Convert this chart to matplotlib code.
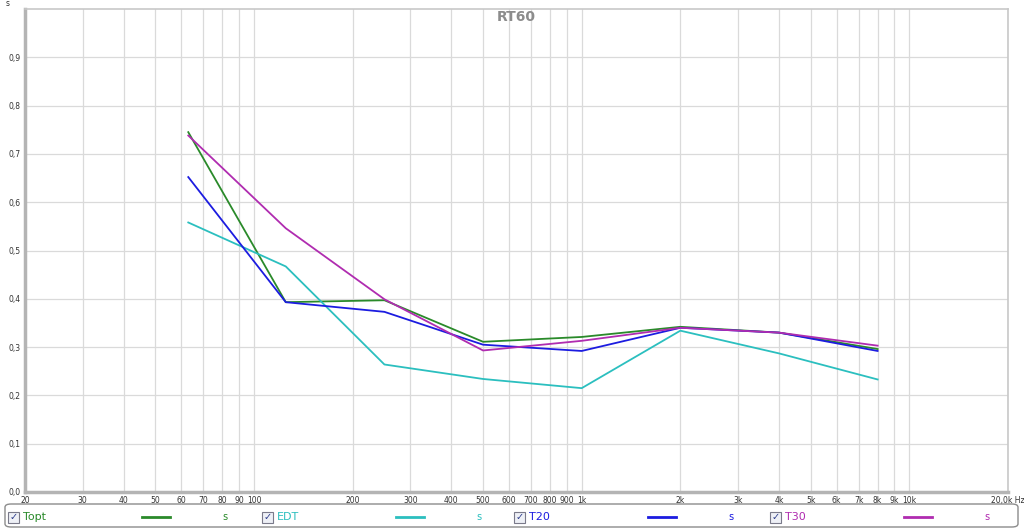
import matplotlib
matplotlib.use("Agg")
import matplotlib.pyplot as plt
from matplotlib.patches import FancyBboxPatch, Rectangle
from matplotlib.lines import Line2D

# octave band centres (Hz)
freqs = [63, 125, 250, 500, 1000, 2000, 4000, 8000]

# RT60 values in seconds
topt = [0.745, 0.393, 0.397, 0.311, 0.321, 0.342, 0.330, 0.296]
edt = [0.558, 0.467, 0.264, 0.234, 0.215, 0.334, 0.287, 0.233]
t20 = [0.652, 0.393, 0.373, 0.305, 0.292, 0.340, 0.330, 0.292]
t30 = [0.738, 0.546, 0.399, 0.293, 0.313, 0.340, 0.330, 0.303]

series_names = ["Topt", "EDT", "T20", "T30"]
series_colors = ["#2a8a2a", "#2bbfbf", "#1c1ce0", "#b02cb0"]

x_ticks = [20, 30, 40, 50, 60, 70, 80, 90, 100, 200, 300, 400, 500, 600, 700,
           800, 900, 1000, 2000, 3000, 4000, 5000, 6000, 7000, 8000, 9000,
           10000, 20000]
x_labels = ["20", "30", "40", "50", "60", "70", "80", "90", "100", "200", "300",
            "400", "500", "600", "700", "800", "900", "1k", "2k", "3k", "4k",
            "5k", "6k", "7k", "8k", "9k", "10k", "20,0k Hz"]
y_ticks = [0.0, 0.1, 0.2, 0.3, 0.4, 0.5, 0.6, 0.7, 0.8, 0.9]
y_labels = ["0,0", "0,1", "0,2", "0,3", "0,4", "0,5", "0,6", "0,7", "0,8", "0,9"]

W, H = 1024, 529
fig = plt.figure(figsize=(W / 100, H / 100), dpi=100)
ax = fig.add_axes([25 / W, (H - 492) / H, (1008 - 25) / W, (492 - 9) / H])

for vals, col in zip([topt, edt, t20, t30], series_colors):
    ax.plot(freqs, vals, color=col, lw=1.3)

ax.set_xscale("log")
ax.set_xlim(20, 20000)
ax.set_ylim(0, 1.0)
ax.set_xticks(x_ticks)
ax.set_xticklabels(x_labels)
ax.xaxis.set_minor_locator(matplotlib.ticker.NullLocator())
ax.set_yticks(y_ticks)
ax.set_yticklabels(y_labels)
ax.tick_params(length=0, labelsize=5.5, colors="#333333", pad=3)
ax.grid(True, color="#dadada", lw=0.9)
ax.set_axisbelow(True)
for side in ["top", "right"]:
    ax.spines[side].set_color("#c8c8c8")
    ax.spines[side].set_linewidth(1.2)
for side in ["left", "bottom"]:
    ax.spines[side].set_color("#b4b4b4")
    ax.spines[side].set_linewidth(2.5)

ax.text(0.5, 0.998, "RT60", transform=ax.transAxes, ha="center", va="top",
        fontsize=10, fontweight="bold", color="#8c8c8c")
fig.text(8 / W, 1 - 4 / H, "s", fontsize=5.5, color="#333333", ha="center", va="center")

# legend strip at the bottom
box = FancyBboxPatch((5 / W, 2 / H), 1013 / W, 23 / H,
                     boxstyle="round,pad=0,rounding_size=0.006",
                     transform=fig.transFigure, fc="white", ec="#8c8c8c", lw=1)
fig.patches.append(box)

starts = [8, 262, 514, 770]
yc = 1 - 517 / H
for x0, name, col in zip(starts, series_names, series_colors):
    cb = Rectangle((x0 / W, yc - 5.5 / H), 11 / W, 11 / H, transform=fig.transFigure,
                   fc="#eef0f6", ec="#7a7a8a", lw=0.8)
    fig.patches.append(cb)
    fig.text((x0 + 5.5) / W, yc, "\u2713", fontsize=7, color="#2a3a8a",
             ha="center", va="center")
    fig.text((x0 + 15) / W, yc, name, fontsize=8, color=col, ha="left", va="center")
    fig.lines.append(Line2D([(x0 + 134) / W, (x0 + 162) / W], [yc, yc],
                            transform=fig.transFigure, color=col, lw=2))
    fig.text((x0 + 217) / W, yc, "s", fontsize=7, color=col, ha="center", va="center")

fig.savefig("out.png", dpi=100)
